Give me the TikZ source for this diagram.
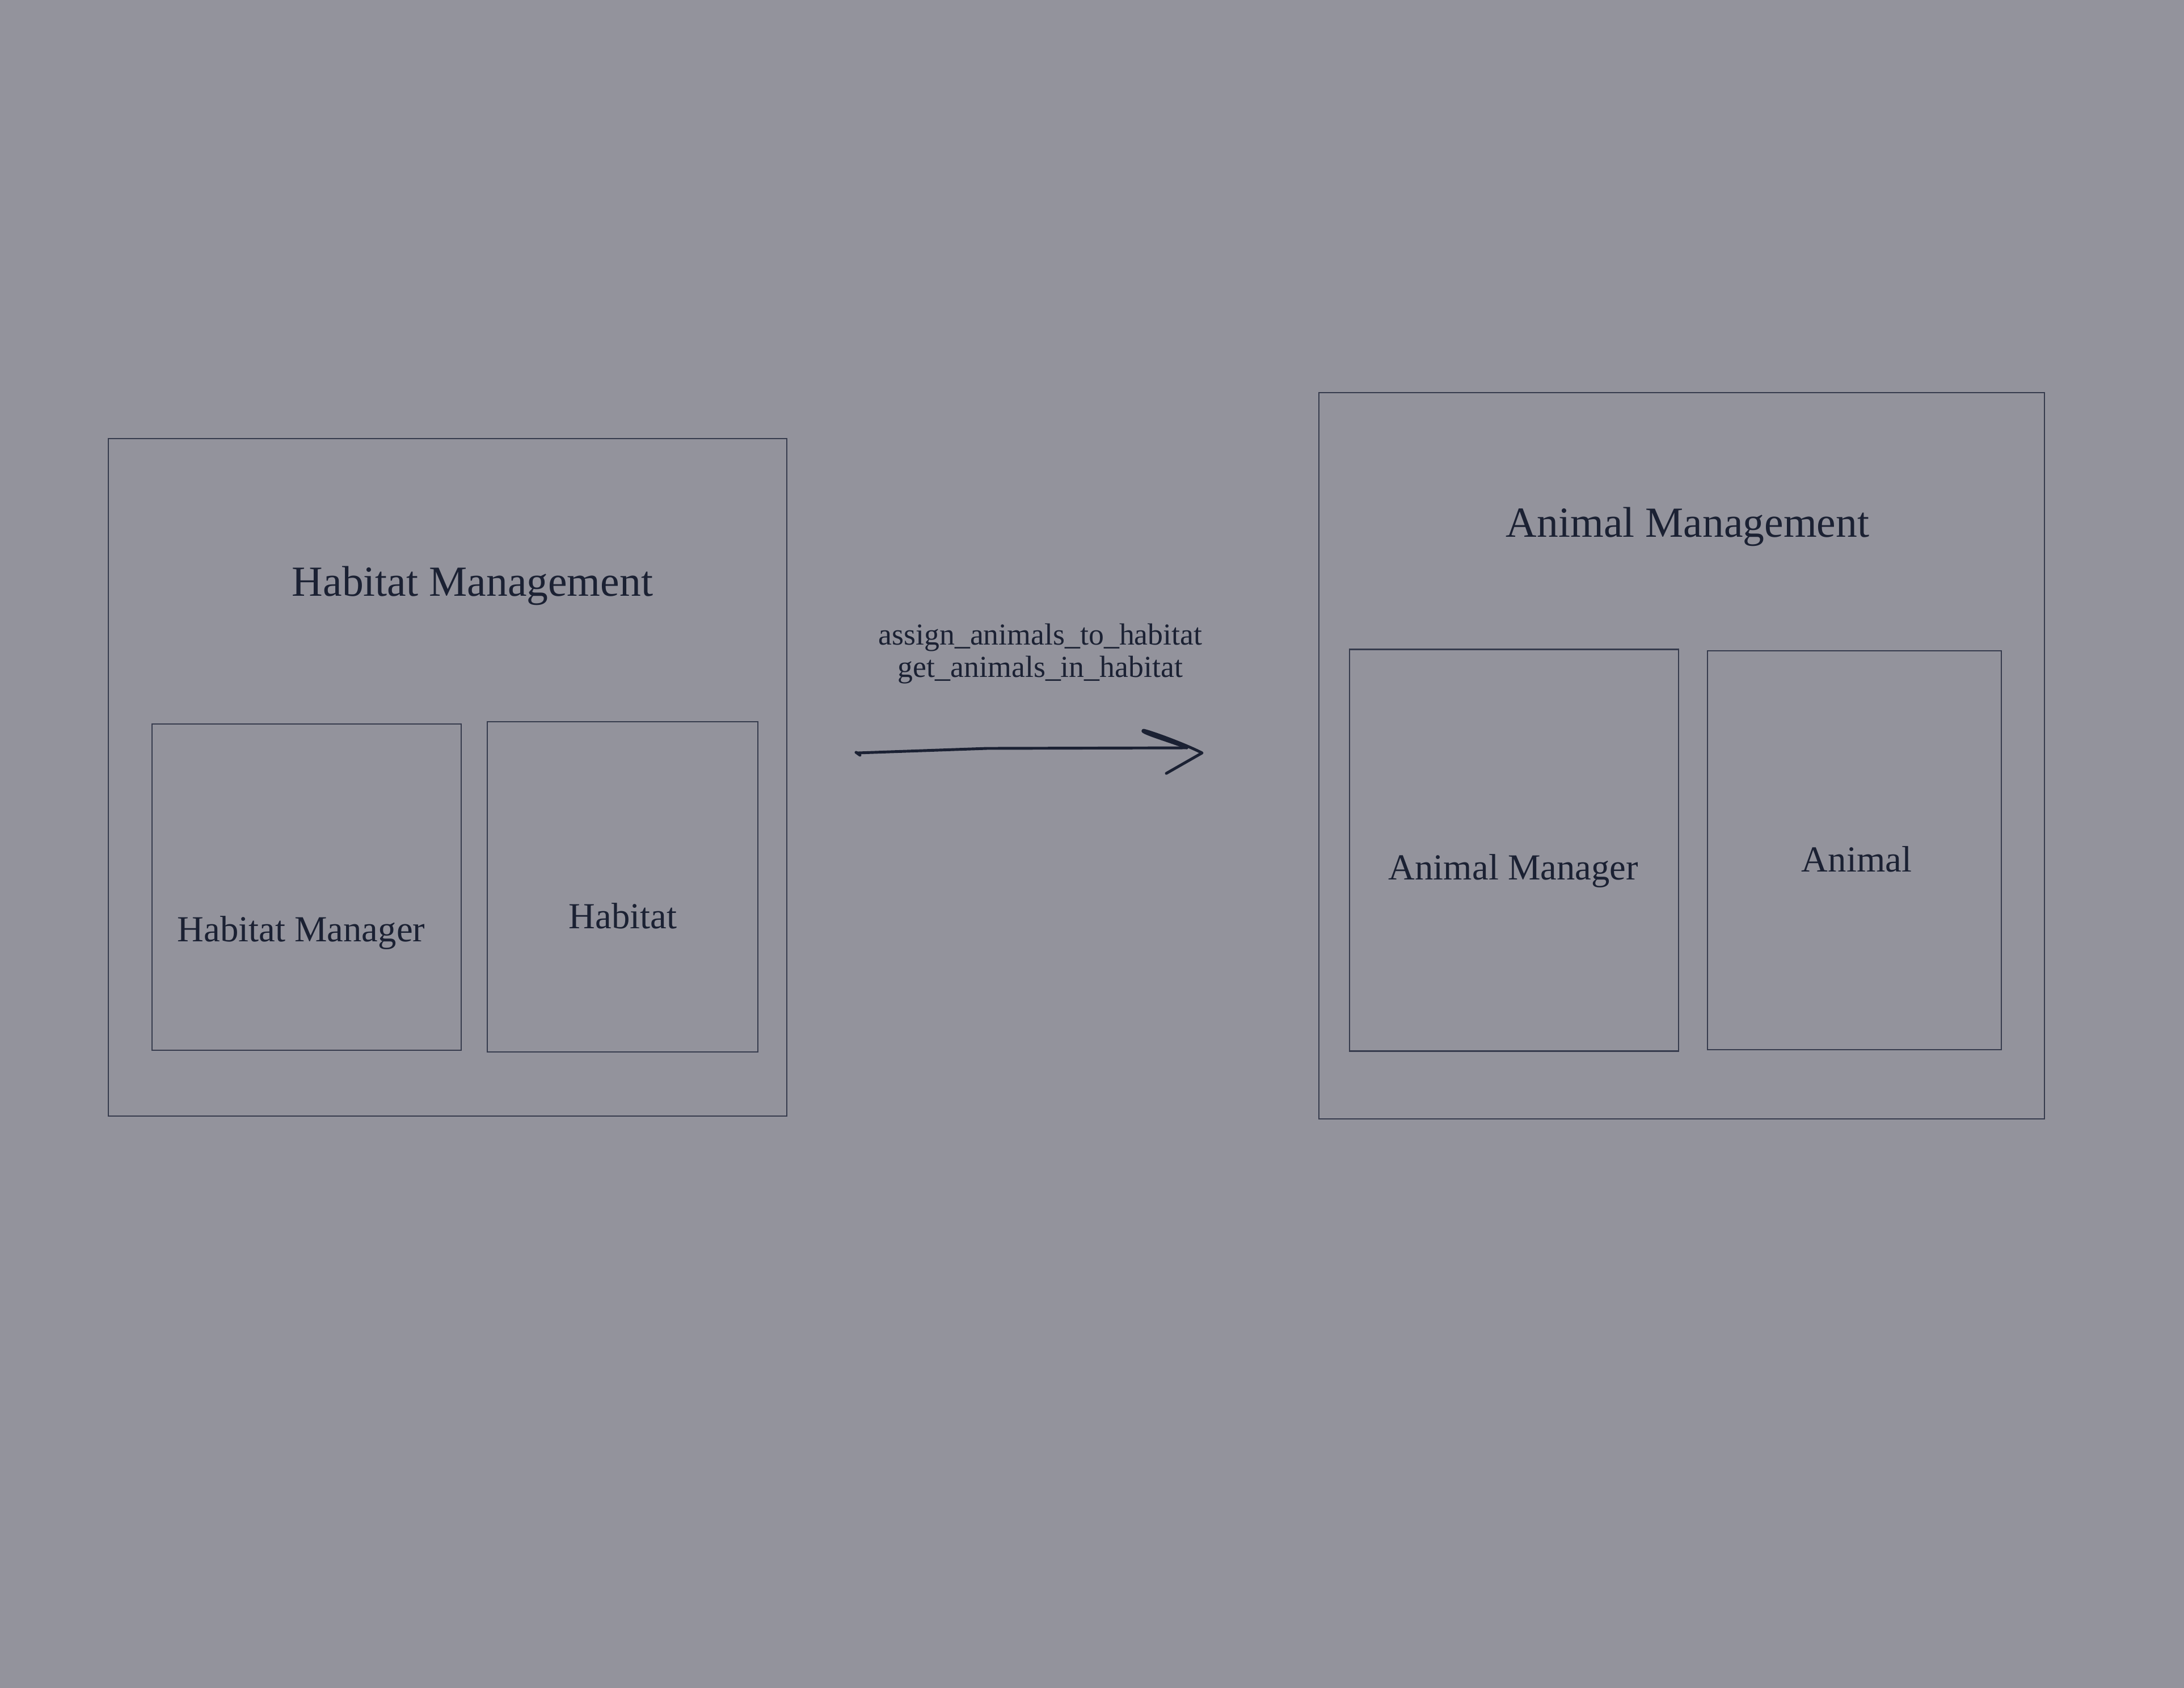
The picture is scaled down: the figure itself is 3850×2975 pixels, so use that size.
\documentclass[tikz,border=0pt]{standalone}
\usepackage{fontspec}
\setmainfont{Liberation Serif}
\definecolor{bgc}{HTML}{93939C}
\definecolor{ink}{HTML}{1B2133}
\definecolor{edge}{HTML}{363B4D}
\begin{document}
\begin{tikzpicture}[x=0.01cm,y=-0.01cm,
  box/.style={draw=edge,line width=0.7pt,rectangle,inner sep=0pt},
  title/.style={text=ink,anchor=base,inner sep=0pt,font=\fontsize{21.5}{26}\selectfont},
  lab/.style={text=ink,anchor=base,inner sep=0pt,font=\fontsize{18.4}{22}\selectfont},
  msg/.style={text=ink,anchor=base,inner sep=0pt,align=center,font=\fontsize{15.3}{21.9}\selectfont},
  arrowline/.style={draw=ink,line width=1.4pt,line cap=round,line join=round}]
\fill[bgc] (0,0) rectangle (3850,2975);
\useasboundingbox (0,0) rectangle (3850,2975);
% left group
\node[box,minimum width=1196*0.01cm,minimum height=1194*0.01cm] (hm) at (789,1370) {};
\node[box,minimum width=545*0.01cm,minimum height=575*0.01cm] (hmgr) at (540.5,1563.5) {};
\node[box,minimum width=477*0.01cm,minimum height=582*0.01cm] (hab) at (1097.5,1563) {};
\node[title] (hmt) at (833,1050) {Habitat Management};
\node[lab] (hmgrt) at (531,1659) {Habitat Manager};
\node[lab] (habt) at (1098,1636) {Habitat};
% right group
\node[box,minimum width=1279*0.01cm,minimum height=1280*0.01cm] (am) at (2964.5,1332) {};
\node[box,minimum width=580*0.01cm,minimum height=708*0.01cm] (amgr) at (2669,1498.5) {};
\node[box,minimum width=518*0.01cm,minimum height=703*0.01cm] (ani) at (3269,1498.5) {};
\node[title] (amt) at (2975,946) {Animal Management};
\node[lab] (amgrt) at (2668,1550) {Animal Manager};
\node[lab] (anit) at (3273,1536) {Animal};
% message
\node[msg] (m1) at (1834,1136) {assign\_animals\_to\_habitat};
\node[msg] (m2) at (1834,1193) {get\_animals\_in\_habitat};
\coordinate (a0) at (1512,1327);
\coordinate (a1) at (2092,1318);
\coordinate (tip) at (2119,1327);
\coordinate (up) at (2016,1287);
\coordinate (lo) at (2056,1363);
\draw[arrowline] (1516,1331) -- (1509,1326) -- (a0) -- (1740,1319) -- (a1);
\draw[arrowline] (a1) .. controls (2060,1305) and (2005,1290) .. (up) .. controls (2030,1290) and (2090,1312) .. (tip) -- (lo);
\end{tikzpicture}
\end{document}
